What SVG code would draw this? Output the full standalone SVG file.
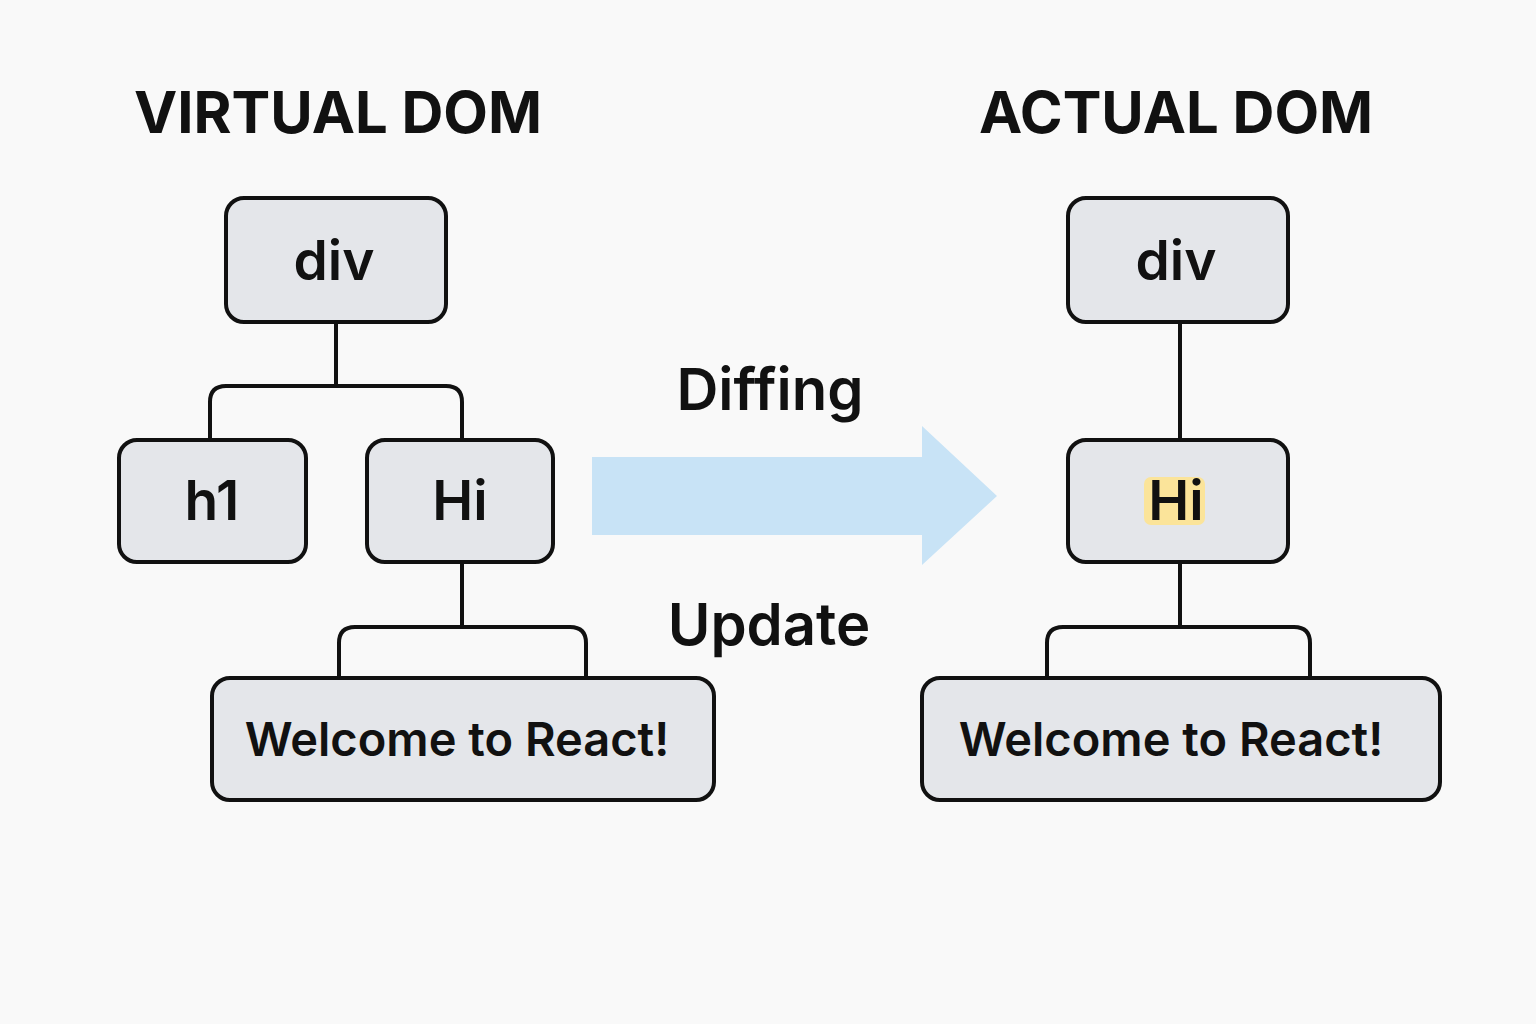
<svg xmlns="http://www.w3.org/2000/svg" width="1536" height="1024" viewBox="0 0 1536 1024">
<style>
.node{fill:#e4e6ea;stroke:#111;stroke-width:4}
.lbl{font-family:Inter,"Noto Sans","Liberation Sans",sans-serif;font-weight:600;fill:#111;text-anchor:middle}
.title{font-family:Inter,"Noto Sans","Liberation Sans",sans-serif;font-weight:700;fill:#111;text-anchor:middle;font-size:58px}
.conn{fill:none;stroke:#111;stroke-width:4;stroke-linejoin:round}
</style>
<rect width="1536" height="1024" fill="#f9f9f9"/>
<text class="title" x="338" y="133">VIRTUAL DOM</text>
<text class="title" x="1176" y="133">ACTUAL DOM</text>
<g id="connectors">
<path class="conn" d="M336 322 V386"/>
<path class="conn" d="M210 440 V402 Q210 386 226 386 H446 Q462 386 462 402 V440"/>
<path class="conn" d="M462 562 V627"/>
<path class="conn" d="M339 678 V643 Q339 627 355 627 H570 Q586 627 586 643 V678"/>
<path class="conn" d="M1180 322 V440"/>
<path class="conn" d="M1180 562 V627"/>
<path class="conn" d="M1047 678 V643 Q1047 627 1063 627 H1294 Q1310 627 1310 643 V678"/>
</g>
<g id="arrow">
<polygon points="592,457 922,457 922,426 997,496 922,565 922,535 592,535" fill="#c8e3f6"/>
</g>
<text class="lbl" x="770" y="410" font-size="58">Diffing</text>
<text class="lbl" x="769" y="645" font-size="58">Update</text>
<g id="vd-div"><rect class="node" x="226" y="198" width="220" height="124" rx="18"/><text class="lbl" x="334" y="280" font-size="55">div</text></g>
<g id="vd-h1"><rect class="node" x="119" y="440" width="187" height="122" rx="18"/><text class="lbl" x="212" y="520" font-size="55">h1</text></g>
<g id="vd-hi"><rect class="node" x="367" y="440" width="186" height="122" rx="18"/><text class="lbl" x="460" y="520" font-size="55">Hi</text></g>
<g id="vd-welcome"><rect class="node" x="212" y="678" width="502" height="122" rx="18"/><text class="lbl" x="457" y="756" font-size="47">Welcome to React!</text></g>
<g id="ad-div"><rect class="node" x="1068" y="198" width="220" height="124" rx="18"/><text class="lbl" x="1176" y="280" font-size="55">div</text></g>
<g id="ad-hi"><rect class="node" x="1068" y="440" width="220" height="122" rx="18"/><rect x="1144" y="477" width="61" height="48" rx="7" fill="#fbe49a"/><text class="lbl" x="1176" y="520" font-size="55">Hi</text></g>
<g id="ad-welcome"><rect class="node" x="922" y="678" width="518" height="122" rx="18"/><text class="lbl" x="1171" y="756" font-size="47">Welcome to React!</text></g>
</svg>
